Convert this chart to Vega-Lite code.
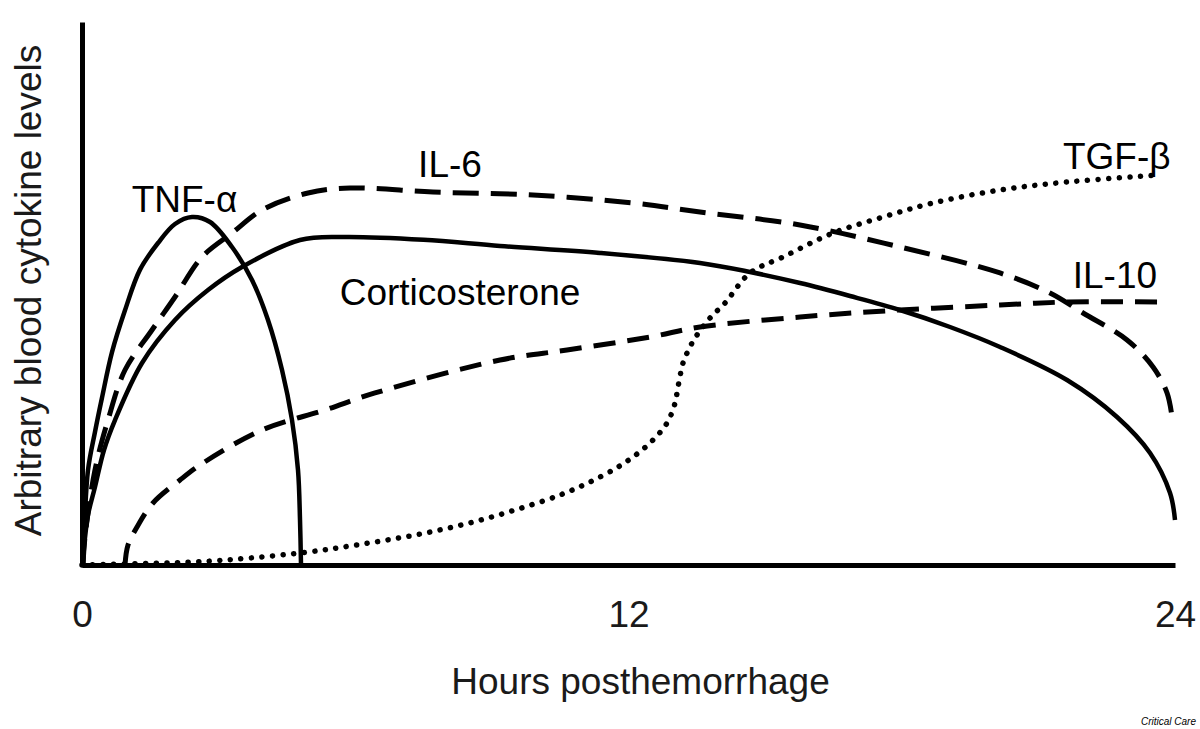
{
  "$schema": "https://vega.github.io/schema/vega-lite/v6.json",
  "width": 1093,
  "height": 543,
  "autosize": "none",
  "padding": {"left": 82, "top": 22, "right": 25, "bottom": 164},
  "background": "white",
  "config": {
    "view": {"stroke": null},
    "font": "Liberation Sans"
  },
  "datasets": {
    "curves": [
      {"series": "TNF", "hour": 0.022, "level": 0},
      {"series": "TNF", "hour": 0.044, "level": 5.16},
      {"series": "TNF", "hour": 0.132, "level": 17.5},
      {"series": "TNF", "hour": 0.285, "level": 24.5},
      {"series": "TNF", "hour": 0.439, "level": 30.8},
      {"series": "TNF", "hour": 0.659, "level": 39.2},
      {"series": "TNF", "hour": 0.944, "level": 46.9},
      {"series": "TNF", "hour": 1.274, "level": 54.4},
      {"series": "TNF", "hour": 1.669, "level": 59.3},
      {"series": "TNF", "hour": 2.042, "level": 62.8},
      {"series": "TNF", "hour": 2.415, "level": 64.09},
      {"series": "TNF", "hour": 2.811, "level": 63.17},
      {"series": "TNF", "hour": 3.294, "level": 58.56},
      {"series": "TNF", "hour": 3.733, "level": 52.49},
      {"series": "TNF", "hour": 4.084, "level": 45.12},
      {"series": "TNF", "hour": 4.392, "level": 35.91},
      {"series": "TNF", "hour": 4.611, "level": 26.7},
      {"series": "TNF", "hour": 4.743, "level": 17.5},
      {"series": "TNF", "hour": 4.787, "level": 8.29},
      {"series": "TNF", "hour": 4.809, "level": 0},

      {"series": "Cort", "hour": 0.022, "level": 0},
      {"series": "Cort", "hour": 0.044, "level": 3.13},
      {"series": "Cort", "hour": 0.132, "level": 9.21},
      {"series": "Cort", "hour": 0.285, "level": 14.36},
      {"series": "Cort", "hour": 0.483, "level": 21.18},
      {"series": "Cort", "hour": 0.725, "level": 26.7},
      {"series": "Cort", "hour": 1.318, "level": 37.2},
      {"series": "Cort", "hour": 2.042, "level": 45.12},
      {"series": "Cort", "hour": 2.767, "level": 50.64},
      {"series": "Cort", "hour": 3.513, "level": 54.88},
      {"series": "Cort", "hour": 4.787, "level": 59.85},
      {"series": "Cort", "hour": 5.709, "level": 60.41},
      {"series": "Cort", "hour": 7.5, "level": 59.9},
      {"series": "Cort", "hour": 9.179, "level": 58.75},
      {"series": "Cort", "hour": 11.375, "level": 57.46},
      {"series": "Cort", "hour": 13.57, "level": 55.62},
      {"series": "Cort", "hour": 14.668, "level": 53.96},
      {"series": "Cort", "hour": 15.766, "level": 51.93},
      {"series": "Cort", "hour": 16.864, "level": 49.54},
      {"series": "Cort", "hour": 17.962, "level": 46.96},
      {"series": "Cort", "hour": 19.06, "level": 43.83},
      {"series": "Cort", "hour": 20.158, "level": 40.15},
      {"series": "Cort", "hour": 21.629, "level": 34.07},
      {"series": "Cort", "hour": 22.727, "level": 27.26},
      {"series": "Cort", "hour": 23.452, "level": 20.63},
      {"series": "Cort", "hour": 23.891, "level": 13.26},
      {"series": "Cort", "hour": 24.0, "level": 8.29},

      {"series": "IL6", "hour": 0.022, "level": 0},
      {"series": "IL6", "hour": 0.066, "level": 5.16},
      {"series": "IL6", "hour": 0.285, "level": 17.5},
      {"series": "IL6", "hour": 0.571, "level": 26.7},
      {"series": "IL6", "hour": 0.944, "level": 35.91},
      {"series": "IL6", "hour": 1.537, "level": 43.28},
      {"series": "IL6", "hour": 2.042, "level": 49.36},
      {"series": "IL6", "hour": 2.635, "level": 56.72},
      {"series": "IL6", "hour": 3.294, "level": 61.14},
      {"series": "IL6", "hour": 3.953, "level": 65.38},
      {"series": "IL6", "hour": 4.963, "level": 68.51},
      {"series": "IL6", "hour": 5.885, "level": 69.43},
      {"series": "IL6", "hour": 7.707, "level": 68.69},
      {"series": "IL6", "hour": 9.903, "level": 68.14},
      {"series": "IL6", "hour": 12.099, "level": 66.67},
      {"series": "IL6", "hour": 13.57, "level": 65.01},
      {"series": "IL6", "hour": 15.766, "level": 62.62},
      {"series": "IL6", "hour": 17.962, "level": 58.56},
      {"series": "IL6", "hour": 20.158, "level": 53.78},
      {"series": "IL6", "hour": 21.256, "level": 50.09},
      {"series": "IL6", "hour": 21.981, "level": 46.41},
      {"series": "IL6", "hour": 22.947, "level": 41.44},
      {"series": "IL6", "hour": 23.518, "level": 36.46},
      {"series": "IL6", "hour": 23.825, "level": 31.68},
      {"series": "IL6", "hour": 23.935, "level": 27.26},

      {"series": "IL10", "hour": 0.944, "level": 0},
      {"series": "IL10", "hour": 1.01, "level": 3.68},
      {"series": "IL10", "hour": 1.208, "level": 7.0},
      {"series": "IL10", "hour": 1.559, "level": 11.42},
      {"series": "IL10", "hour": 2.152, "level": 15.65},
      {"series": "IL10", "hour": 2.657, "level": 18.78},
      {"series": "IL10", "hour": 3.953, "level": 24.86},
      {"series": "IL10", "hour": 5.336, "level": 28.55},
      {"series": "IL10", "hour": 6.434, "level": 31.68},
      {"series": "IL10", "hour": 9.179, "level": 37.75},
      {"series": "IL10", "hour": 10.65, "level": 39.59},
      {"series": "IL10", "hour": 12.473, "level": 41.99},
      {"series": "IL10", "hour": 13.57, "level": 43.83},
      {"series": "IL10", "hour": 15.766, "level": 45.67},
      {"series": "IL10", "hour": 17.962, "level": 46.96},
      {"series": "IL10", "hour": 20.158, "level": 47.88},
      {"series": "IL10", "hour": 21.629, "level": 48.43},
      {"series": "IL10", "hour": 23.606, "level": 48.43},

      {"series": "TGF", "hour": 0.0, "level": 0},
      {"series": "TGF", "hour": 2.437, "level": 0.55},
      {"series": "TGF", "hour": 3.689, "level": 1.29},
      {"series": "TGF", "hour": 4.963, "level": 2.39},
      {"series": "TGF", "hour": 5.885, "level": 3.5},
      {"series": "TGF", "hour": 6.829, "level": 4.79},
      {"series": "TGF", "hour": 7.751, "level": 6.26},
      {"series": "TGF", "hour": 8.674, "level": 8.1},
      {"series": "TGF", "hour": 9.574, "level": 10.31},
      {"series": "TGF", "hour": 10.496, "level": 12.89},
      {"series": "TGF", "hour": 11.155, "level": 15.29},
      {"series": "TGF", "hour": 11.77, "level": 18.05},
      {"series": "TGF", "hour": 12.187, "level": 20.44},
      {"series": "TGF", "hour": 12.538, "level": 23.02},
      {"series": "TGF", "hour": 12.846, "level": 26.15},
      {"series": "TGF", "hour": 13.022, "level": 29.83},
      {"series": "TGF", "hour": 13.087, "level": 32.78},
      {"series": "TGF", "hour": 13.197, "level": 37.2},
      {"series": "TGF", "hour": 13.285, "level": 39.04},
      {"series": "TGF", "hour": 13.395, "level": 40.88},
      {"series": "TGF", "hour": 13.504, "level": 42.36},
      {"series": "TGF", "hour": 13.79, "level": 45.49},
      {"series": "TGF", "hour": 14.119, "level": 48.25},
      {"series": "TGF", "hour": 14.668, "level": 53.78},
      {"series": "TGF", "hour": 15.393, "level": 56.72},
      {"series": "TGF", "hour": 16.491, "level": 61.14},
      {"series": "TGF", "hour": 17.589, "level": 64.09},
      {"series": "TGF", "hour": 18.687, "level": 66.67},
      {"series": "TGF", "hour": 20.158, "level": 69.06},
      {"series": "TGF", "hour": 21.629, "level": 70.53},
      {"series": "TGF", "hour": 23.671, "level": 71.82}
    ],
    "labels": [
      {"label": "TNF-α", "hour": 2.25, "level": 65.0},
      {"label": "IL-6", "hour": 8.08, "level": 71.5},
      {"label": "TGF-β", "hour": 22.72, "level": 72.9},
      {"label": "IL-10", "hour": 22.68, "level": 51.0},
      {"label": "Corticosterone", "hour": 8.3, "level": 47.9}
    ],
    "credit": [
      {"label": "Critical Care", "hour": 24.46, "level": -29.5}
    ]
  },
  "encoding": {
    "x": {
      "field": "hour", "type": "quantitative",
      "scale": {"domain": [0, 24], "nice": false, "zero": false},
      "axis": {
        "values": [0, 12, 24],
        "title": "Hours posthemorrhage",
        "grid": false, "ticks": false, "tickSize": 0,
        "domain": true, "domainColor": "black", "domainWidth": 5,
        "labelFontSize": 37, "labelFont": "Liberation Sans", "labelColor": "#1a1a1a",
        "labelPadding": 32, "labelFlush": false, "labelBaseline": "top",
        "titleFontSize": 37, "titleFont": "Liberation Sans", "titleColor": "#1a1a1a",
        "titleFontWeight": "normal", "titleX": 558, "titleY": 128,
        "titleAlign": "center", "titleBaseline": "alphabetic"
      }
    },
    "y": {
      "field": "level", "type": "quantitative",
      "scale": {"domain": [0, 100], "nice": false},
      "axis": {
        "title": "Arbitrary blood cytokine levels",
        "grid": false, "ticks": false, "tickSize": 0, "labels": false,
        "domain": true, "domainColor": "black", "domainWidth": 5,
        "titleFontSize": 37, "titleFont": "Liberation Sans", "titleColor": "#1a1a1a",
        "titleFontWeight": "normal", "titleAngle": -90,
        "titleX": -42, "titleY": 268, "titleAlign": "center", "titleBaseline": "alphabetic"
      }
    }
  },
  "layer": [
    {
      "data": {"name": "curves"},
      "transform": [{"filter": "datum.series === 'TNF'"}],
      "mark": {"type": "line", "color": "black", "strokeWidth": 4.5, "interpolate": "catmull-rom"}
    },
    {
      "data": {"name": "curves"},
      "transform": [{"filter": "datum.series === 'Cort'"}],
      "mark": {"type": "line", "color": "black", "strokeWidth": 4.5, "interpolate": "catmull-rom"}
    },
    {
      "data": {"name": "curves"},
      "transform": [{"filter": "datum.series === 'IL6'"}],
      "mark": {"type": "line", "color": "black", "strokeWidth": 5, "strokeDash": [26, 12], "interpolate": "catmull-rom"}
    },
    {
      "data": {"name": "curves"},
      "transform": [{"filter": "datum.series === 'IL10'"}],
      "mark": {"type": "line", "color": "black", "strokeWidth": 5, "strokeDash": [22, 12], "interpolate": "catmull-rom"}
    },
    {
      "data": {"name": "curves"},
      "transform": [{"filter": "datum.series === 'TGF'"}],
      "mark": {"type": "line", "color": "black", "strokeWidth": 5.5, "strokeDash": [0.1, 10.5], "strokeCap": "round", "interpolate": "catmull-rom"}
    },
    {
      "data": {"name": "labels"},
      "mark": {"type": "text", "font": "Liberation Sans", "fontSize": 37, "color": "black", "align": "center", "baseline": "alphabetic"},
      "encoding": {"text": {"field": "label"}}
    },
    {
      "data": {"name": "credit"},
      "mark": {"type": "text", "font": "Liberation Sans", "fontSize": 10, "fontStyle": "italic", "color": "black", "align": "right", "baseline": "alphabetic"},
      "encoding": {"text": {"field": "label"}}
    }
  ]
}
